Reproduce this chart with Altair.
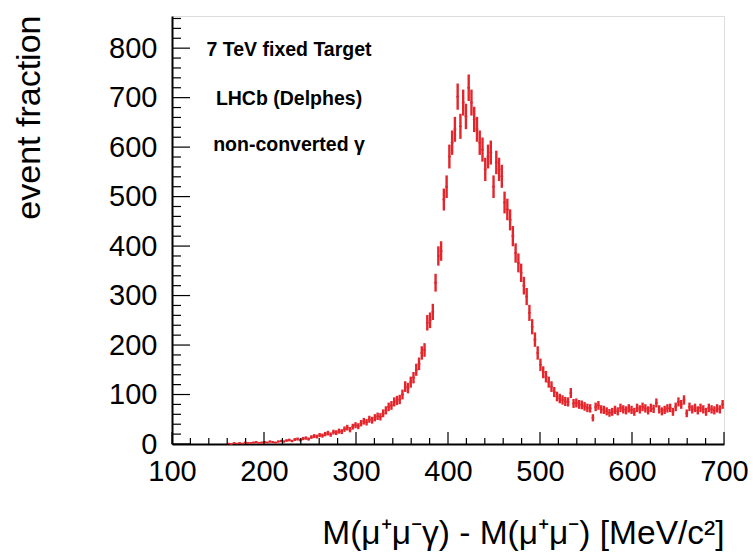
import altair as alt
import pandas as pd

# histogram: 3 MeV bins starting at 160 MeV/c^2
bin_start = 160
bin_width = 3
counts = [
    1, 0, 2, 1, 2, 1, 3, 2, 2, 3,
    4, 2, 3, 4, 3, 5, 4, 3, 5, 6,
    5, 7, 8, 6, 9, 10, 8, 11, 12, 10,
    14, 16, 15, 18, 17, 20, 22, 19, 24, 23,
    26, 25, 30, 33, 29, 35, 38, 36, 42, 46,
    44, 50, 48, 53, 56, 55, 62, 68, 75, 78,
    85, 88, 90, 100, 116, 113, 125, 134, 150, 162,
    184, 190, 245, 250, 267, 326, 380, 390, 494, 520,
    581, 609, 636, 702, 642, 690, 662, 720, 690, 656,
    636, 609, 595, 555, 581, 589, 520, 569, 555, 541,
    488, 474, 453, 420, 386, 366, 346, 320, 298, 265,
    237, 211, 184, 160, 145, 136, 125, 116, 105, 96,
    92, 89, 86, 85, 103, 82, 83, 80, 79, 76,
    73, 72, 53, 75, 78, 70, 69, 66, 63, 65,
    69, 66, 73, 70, 68, 72, 69, 65, 73, 70,
    75, 72, 68, 73, 71, 83, 70, 66, 69, 72,
    73, 65, 75, 85, 80, 89, 62, 75, 70, 73,
    68, 73, 70, 65, 73, 70, 68, 72, 70, 80,
]

x_major = [100, 200, 300, 400, 500, 600, 700]
x_minor = [120, 140, 160, 180, 220, 240, 260, 280, 320, 340, 360, 380,
           420, 440, 460, 480, 520, 540, 560, 580, 620, 640, 660, 680]
y_major = [0, 100, 200, 300, 400, 500, 600, 700, 800]
y_minor = [20, 40, 60, 80, 120, 140, 160, 180, 220, 240, 260, 280,
           320, 340, 360, 380, 420, 440, 460, 480, 520, 540, 560, 580,
           620, 640, 660, 680, 720, 740, 760, 780, 820, 840, 860]

annotations = ["7 TeV fixed Target", "LHCb (Delphes)", "non-converted γ"]
x_title = "M(μ⁺μ⁻γ) - M(μ⁺μ⁻) [MeV/c²]"
y_title = "event fraction"

W, H = 552, 428
RED = "#e3262c"
FONT = "Liberation Sans"

lo = [bin_start + bin_width * i for i in range(len(counts))]
df = pd.DataFrame({
    "lo": lo,
    "hi": [v + bin_width for v in lo],
    "c": [v + bin_width / 2 for v in lo],
    "n": counts,
})

xs = alt.Scale(domain=[100, 700], nice=False, zero=False)
ys = alt.Scale(domain=[0, 865], nice=False, zero=True)

ax_x = alt.Axis(
    values=x_major, format="d", ticks=False, grid=False,
    labelFont=FONT, labelFontSize=29, labelColor="black", labelPadding=13,
    labelFlush=False, labelOverlap=False,
    domain=True, domainColor="black", domainWidth=2,
    title=x_title, titleFont=FONT, titleFontSize=33.5, titleFontWeight="normal",
    titleColor="black", titleAnchor="end", titlePadding=31,
)
ax_y = alt.Axis(
    values=y_major, format="d", ticks=False, grid=False,
    labelFont=FONT, labelFontSize=29, labelColor="black", labelPadding=15,
    labelFlush=False, labelOverlap=False,
    domain=True, domainColor="black", domainWidth=2,
    title=y_title, titleFont=FONT, titleFontSize=34, titleFontWeight="normal",
    titleColor="black", titleAngle=-90, titleAlign="right", titleBaseline="bottom",
    titleX=-126, titleY=-1,
)

err = alt.Chart(df).transform_calculate(
    y1="datum.n - sqrt(datum.n)", y2="datum.n + sqrt(datum.n)"
).mark_rule(color=RED, strokeWidth=2.4).encode(
    x=alt.X("c:Q", scale=xs, axis=ax_x),
    y=alt.Y("y1:Q", scale=ys, axis=ax_y),
    y2="y2:Q",
)

hbar = alt.Chart(df).mark_rule(color=RED, strokeWidth=1.5).encode(
    x=alt.X("lo:Q", scale=xs, axis=ax_x),
    x2="hi:Q",
    y=alt.Y("n:Q", scale=ys, axis=ax_y),
)

def xticks(vals, length):
    return alt.Chart(pd.DataFrame({"v": vals})).mark_rule(color="black", strokeWidth=1.2).encode(
        x=alt.X("v:Q", scale=xs, axis=ax_x),
        y=alt.value(H), y2=alt.value(H - length),
    )

def yticks(vals, length):
    return alt.Chart(pd.DataFrame({"v": vals})).mark_rule(color="black", strokeWidth=1.2).encode(
        y=alt.Y("v:Q", scale=ys, axis=ax_y),
        x=alt.value(0), x2=alt.value(length),
    )

one = pd.DataFrame({"a": [0]})
text_y = [34, 83, 129]
texts = [
    alt.Chart(one).mark_text(font=FONT, fontSize=19.5, fontWeight="bold", color="black",
                             align="center", baseline="middle").encode(
        x=alt.value(117), y=alt.value(ty), text=alt.value(t))
    for t, ty in zip(annotations, text_y)
]

chart = alt.layer(
    err, hbar,
    xticks(x_major, 12), xticks(x_minor, 6),
    yticks(y_major, 18), yticks(y_minor, 9),
    *texts,
).properties(
    width=W, height=H,
    autosize=alt.AutoSizeParams(type="none"),
    padding={"left": 164, "top": 8, "right": 24, "bottom": 114},
).configure_view(
    stroke="#444", strokeWidth=1.5
).configure(background="white")

chart.save("out.html", embed_options={"renderer": "svg", "actions": False})
